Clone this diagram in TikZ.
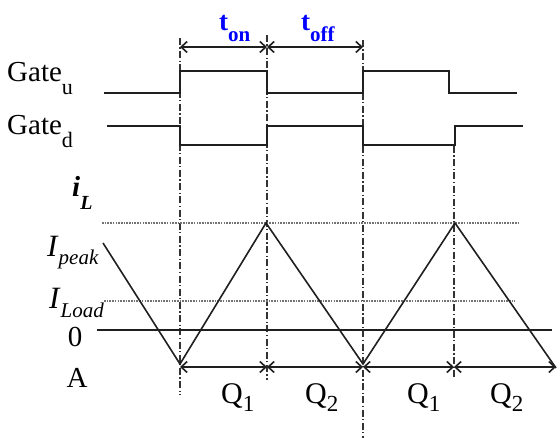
\documentclass[tikz,border=0pt]{standalone}
\usepackage{fontspec}
\setmainfont{Liberation Serif}
\usetikzlibrary{arrows.meta}
\newcommand\lowsub[3]{\raisebox{-#1pt}{\fontsize{#2}{#2}\selectfont #3}}
\begin{document}
\begin{tikzpicture}[x=1pt,y=-1pt,
  wave/.style={line width=1.8pt, black!88, line join=miter},
  guide/.style={line width=1.2pt, black!80, dash pattern=on 7pt off 2.5pt on 1.2pt off 2.5pt},
  level/.style={line width=1.3pt, black!55, dash pattern=on 1.6pt off 1.1pt},
  dim/.style={line width=1.6pt, black!88, {Straight Barb[length=6pt,width=11pt]}-{Straight Barb[length=6pt,width=11pt]}},
  lbl/.style={font=\fontsize{29}{29}\selectfont, inner sep=0pt},
  blbl/.style={inner sep=0pt, text=blue, font=\fontsize{27}{27}\selectfont\bfseries}]
\useasboundingbox (0,0) rectangle (560,438);
% vertical guides
\coordinate (ga1) at (180,38);  \coordinate (ga2) at (180,395);
\coordinate (gb1) at (267,35);  \coordinate (gb2) at (267,380);
\coordinate (gc1) at (363,40);  \coordinate (gc2) at (363,438);
\coordinate (gd1) at (454,146); \coordinate (gd2) at (454,378);
\draw[guide] (ga1) -- (ga2);
\draw[guide] (gb1) -- (gb2);
\draw[guide] (gc1) -- (gc2);
\draw[guide] (gd1) -- (gd2);
% level lines
\coordinate (pk1) at (102,223); \coordinate (pk2) at (520,223);
\coordinate (ld1) at (104,301); \coordinate (ld2) at (515,301);
\coordinate (z1) at (97,330);   \coordinate (z2) at (552,330);
\draw[level] (pk1) -- (pk2);
\draw[level] (ld1) -- (ld2);
\draw[wave] (z1) -- (z2);
% gate signals
\draw[wave] (104,93) -- (180,93) -- (180,71) -- (267,71) -- (267,93) -- (363,93)
  -- (363,71) -- (449,71) -- (449,93) -- (517,93);
\draw[wave] (107,126) -- (180,126) -- (180,145) -- (267,145) -- (267,126) -- (363,126)
  -- (363,145) -- (455,145) -- (455,126) -- (523,126);
% inductor current
\coordinate (w0) at (103,243);
\coordinate (w1) at (180,364);
\coordinate (w2) at (266,223);
\coordinate (w3) at (363,364);
\coordinate (w4) at (455,223);
\coordinate (w5) at (556,368);
\draw[wave, line width=1.6pt] (w0) -- (w1) -- (w2) -- (w3) -- (w4) -- (w5);
% dimension arrows top
\coordinate (da) at (180,47); \coordinate (db) at (267,47); \coordinate (dc) at (363,47);
\draw[dim] (da) -- (db);
\draw[dim] (db) -- (dc);
% dimension arrows bottom
\coordinate (qa) at (180,367); \coordinate (qb) at (267,367); \coordinate (qc) at (363,367);
\coordinate (qd) at (454,367); \coordinate (qe) at (556,367);
\draw[dim] (qa) -- (qb);
\draw[dim] (qb) -- (qc);
\draw[dim] (qc) -- (qd);
\draw[dim] (qd) -- (qe);
% labels
\node[blbl, anchor=base west] (ton) at (219,31) {t\lowsub{11}{21}{on}};
\node[blbl, anchor=base west] (toff) at (301,31) {t\lowsub{11}{21}{off}};
\node[lbl, anchor=base west] (gu) at (7,82) {Gate\lowsub{13}{22}{u}};
\node[lbl, anchor=base west] (gd) at (7,135) {Gate\lowsub{13}{22}{d}};
\node[lbl, anchor=base west] (il) at (72,197) {\textbf{\textit{i}}\lowsub{13}{20}{\textbf{\textit{L}}}};
\node[lbl, anchor=base west, font=\fontsize{31}{31}\selectfont] (ip) at (47,257) {\textit{I}\lowsub{8}{21}{\textit{peak}}};
\node[lbl, anchor=base west, font=\fontsize{31}{31}\selectfont] (ild) at (49,309) {\textit{I}\lowsub{9}{21}{\textit{Load}}};
\node[lbl, anchor=base] (zero) at (75,347) {0};
\node[lbl, anchor=base] (amp) at (77,388) {A};
\node[lbl, anchor=base west, font=\fontsize{30}{30}\selectfont] (q1a) at (221,403) {Q\lowsub{9}{23}{1}};
\node[lbl, anchor=base west, font=\fontsize{30}{30}\selectfont] (q2a) at (305,403) {Q\lowsub{9}{23}{2}};
\node[lbl, anchor=base west, font=\fontsize{30}{30}\selectfont] (q1b) at (407,403) {Q\lowsub{9}{23}{1}};
\node[lbl, anchor=base west, font=\fontsize{30}{30}\selectfont] (q2b) at (490,403) {Q\lowsub{9}{23}{2}};
\end{tikzpicture}
\end{document}
